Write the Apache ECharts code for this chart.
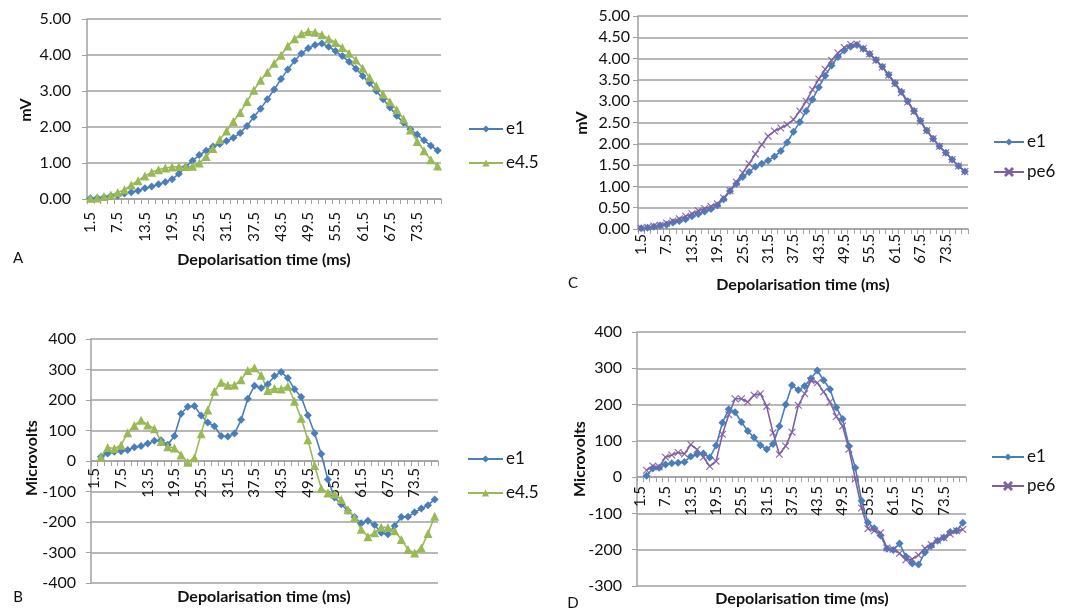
<!DOCTYPE html>
<html><head><meta charset="utf-8">
<script src="https://cdn.jsdelivr.net/npm/echarts@6/dist/echarts.min.js"></script>
<style>html,body{margin:0;padding:0;background:#fff}#c{width:1079px;height:610px}</style>
</head><body><div id="c"></div>
<script>
// Depolarisation time categories (ms)
const categories = ['1.5','3.0','4.5','6.0','7.5','9.0','10.5','12.0','13.5','15.0','16.5','18.0','19.5','21.0','22.5','24.0','25.5','27.0','28.5','30.0','31.5','33.0','34.5','36.0','37.5','39.0','40.5','42.0','43.5','45.0','46.5','48.0','49.5','51.0','52.5','54.0','55.5','57.0','58.5','60.0','61.5','63.0','64.5','66.0','67.5','69.0','70.5','72.0','73.5','75.0','76.5','78.0'];

// Panel A / C (mV)
const e1_mV = [0.02,0.03,0.05,0.08,0.10,0.15,0.19,0.23,0.30,0.35,0.41,0.47,0.55,0.70,0.89,1.06,1.22,1.34,1.46,1.53,1.61,1.70,1.83,2.03,2.28,2.51,2.77,3.04,3.33,3.60,3.84,4.04,4.19,4.28,4.32,4.23,4.11,3.97,3.81,3.62,3.42,3.22,3.00,2.77,2.54,2.31,2.12,1.94,1.79,1.63,1.48,1.35];
const e45_mV = [0.02,0.03,0.07,0.11,0.18,0.26,0.39,0.51,0.64,0.74,0.81,0.86,0.89,0.90,0.90,0.91,1.00,1.18,1.40,1.65,1.89,2.15,2.40,2.71,3.02,3.30,3.52,3.77,3.99,4.25,4.45,4.59,4.65,4.63,4.56,4.45,4.35,4.21,4.05,3.86,3.63,3.38,3.14,2.91,2.70,2.48,2.22,1.92,1.60,1.34,1.09,0.92];
const pe6_mV = [0.02,0.04,0.07,0.09,0.14,0.19,0.24,0.30,0.36,0.43,0.48,0.53,0.59,0.73,0.90,1.10,1.32,1.53,1.76,1.98,2.18,2.30,2.37,2.45,2.57,2.77,3.00,3.27,3.52,3.75,3.96,4.13,4.26,4.33,4.34,4.24,4.11,3.96,3.80,3.61,3.41,3.20,2.98,2.76,2.53,2.31,2.12,1.94,1.79,1.63,1.48,1.35];

// Panel B (microvolts)
const e1_uV_B = [null,14,25,30,32,36,45,49,57,66,68,53,82,155,178,180,149,126,114,82,80,90,135,204,247,239,252,279,292,272,235,210,150,91,23,-61,-120,-142,-163,-184,-204,-196,-210,-235,-240,-213,-184,-183,-168,-156,-145,-126];
const e45_uV_B = [null,14,44,41,52,93,116,134,118,106,64,47,43,20,-4,11,89,167,229,258,248,249,266,297,306,281,231,238,236,245,196,140,70,-15,-89,-105,-108,-126,-160,-185,-224,-248,-235,-217,-218,-229,-257,-290,-302,-285,-238,-181];

// Panel D (microvolts)
const e1_uV_D = [null,4,24,26,35,38,40,42,57,63,65,54,87,150,187,179,152,127,109,88,77,91,140,200,253,240,251,272,294,267,242,192,160,86,26,-65,-125,-141,-161,-197,-201,-183,-219,-238,-241,-208,-190,-175,-166,-151,-148,-126];
const pe6_uV_D = [null,19,31,28,55,61,68,64,90,76,55,30,44,118,172,216,216,207,226,230,195,122,63,86,124,198,230,266,260,235,207,167,141,77,-5,-85,-142,-148,-153,-195,-199,-210,-228,-226,-215,-196,-186,-174,-167,-157,-148,-144];

const xTitle = 'Depolarisation time (ms)';
const FONT = 'Lato, "Open Sans", sans-serif';
const TXT = '#111';
const GRAY = '#a0a0a0';
const BLUE = '#4a7ebb', GREEN = '#98b954', PURPLE = '#7f5fa3';
const XSYM = 'path://M0,0.8L0.8,0L5,4.2L9.2,0L10,0.8L5.8,5L10,9.2L9.2,10L5,5.8L0.8,10L0,9.2L4.2,5Z';

const grids = [
  {left: 87, top: 19, width: 354, height: 180},
  {left: 638, top: 16, width: 330, height: 213},
  {left: 91, top: 339, width: 347, height: 244},
  {left: 637, top: 332, width: 329, height: 254}
];

// offset: shift of the category axis up from the grid bottom to the value 0
function xAx(i, margin, offset) {
  return {
    type: 'category', gridIndex: i, data: categories, boundaryGap: true,
    position: 'bottom', offset: offset,
    axisLine: {show: true, onZero: false, lineStyle: {color: GRAY, width: 1.5}},
    axisTick: {show: true, interval: 0, length: 5, lineStyle: {color: GRAY, width: 1}},
    axisLabel: {interval: 3, rotate: 90, margin: margin, fontSize: 15, color: TXT, fontFamily: FONT},
    splitLine: {show: false}
  };
}
function yAx(i, min, max, step, dec, margin) {
  return {
    type: 'value', gridIndex: i, min: min, max: max, interval: step,
    axisLine: {show: true, onZero: false, lineStyle: {color: GRAY, width: 1.5}},
    axisTick: {show: true, length: 5, lineStyle: {color: GRAY}},
    axisLabel: {margin: margin, fontSize: 16, color: TXT, fontFamily: FONT,
      formatter: v => dec ? v.toFixed(dec) : String(v)},
    splitLine: {show: true, lineStyle: {color: GRAY, width: 1.5}}
  };
}
function ser(name, data, i, color, symbol, size) {
  return {
    name: name, type: 'line', xAxisIndex: i, yAxisIndex: i, data: data,
    symbol: symbol, symbolSize: size, showSymbol: true, showAllSymbol: true, connectNulls: false,
    lineStyle: {color: color, width: 1.6},
    itemStyle: {color: color, borderColor: color, borderWidth: symbol === XSYM ? 0.4 : 0},
    animation: false
  };
}
function leg(name, left, cy, w) {
  return {
    data: [name], orient: 'vertical', left: left, top: cy - 10,
    itemWidth: w, itemHeight: 9, itemGap: 0, padding: 0,
    textStyle: {fontSize: 17, color: TXT, fontFamily: FONT, lineHeight: 20, padding: [0, 0, 0, -2]},
    selectedMode: false
  };
}
function txt(x, y, text, opts) {
  return Object.assign({
    type: 'text', x: x, y: y,
    style: {text: text, fontSize: 16, fontWeight: 'bold', fontFamily: FONT, fill: TXT,
      align: 'center', verticalAlign: 'middle'}
  }, opts || {});
}
function plain(x, y, text) {
  return {type: 'text', x: x, y: y,
    style: {text: text, fontSize: 15, fontFamily: FONT, fill: TXT, align: 'center', verticalAlign: 'middle'}};
}

const option = {
  animation: false,
  backgroundColor: '#fff',
  grid: grids,
  xAxis: [xAx(0, 13, 0), xAx(1, 5, 0), xAx(2, 7, -122), xAx(3, 9, -108.9)],
  yAxis: [yAx(0, 0, 5, 1, 2, 16), yAx(1, 0, 5, 0.5, 2, 8), yAx(2, -400, 400, 100, 0, 15), yAx(3, -300, 400, 100, 0, 15)],
  legend: [
    leg('e1', 468, 129, 34), leg('e4.5', 468, 163, 34),
    leg('e1', 993, 142, 30), leg('pe6', 993, 172, 30),
    leg('e1', 467, 459, 35), leg('e4.5', 467, 493, 35),
    leg('e1', 991, 457, 32), leg('pe6', 991, 486, 32)
  ],
  series: [
    ser('e1', e1_mV, 0, BLUE, 'diamond', 8),
    ser('e4.5', e45_mV, 0, GREEN, 'triangle', 9),
    ser('e1', e1_mV, 1, BLUE, 'diamond', 8),
    ser('pe6', pe6_mV, 1, PURPLE, XSYM, 7),
    ser('e1', e1_uV_B, 2, BLUE, 'diamond', 8),
    ser('e4.5', e45_uV_B, 2, GREEN, 'triangle', 9),
    ser('e1', e1_uV_D, 3, BLUE, 'diamond', 8),
    ser('pe6', pe6_uV_D, 3, PURPLE, XSYM, 7)
  ],
  graphic: [
    txt(26, 110, 'mV', {rotation: Math.PI / 2}),
    txt(264, 260, xTitle),
    plain(18, 258, 'A'),
    txt(582, 123, 'mV', {rotation: Math.PI / 2}),
    txt(803, 285, xTitle),
    plain(573, 283, 'C'),
    txt(32, 458, 'Microvolts', {rotation: Math.PI / 2}),
    txt(264, 597, xTitle),
    plain(18, 597, 'B'),
    txt(580, 459, 'Microvolts', {rotation: Math.PI / 2}),
    txt(802, 599, xTitle),
    plain(573, 603, 'D')
  ]
};
const chart = echarts.init(document.getElementById('c'), null, {renderer: 'canvas'});
chart.setOption(option);
</script>
</body></html>
